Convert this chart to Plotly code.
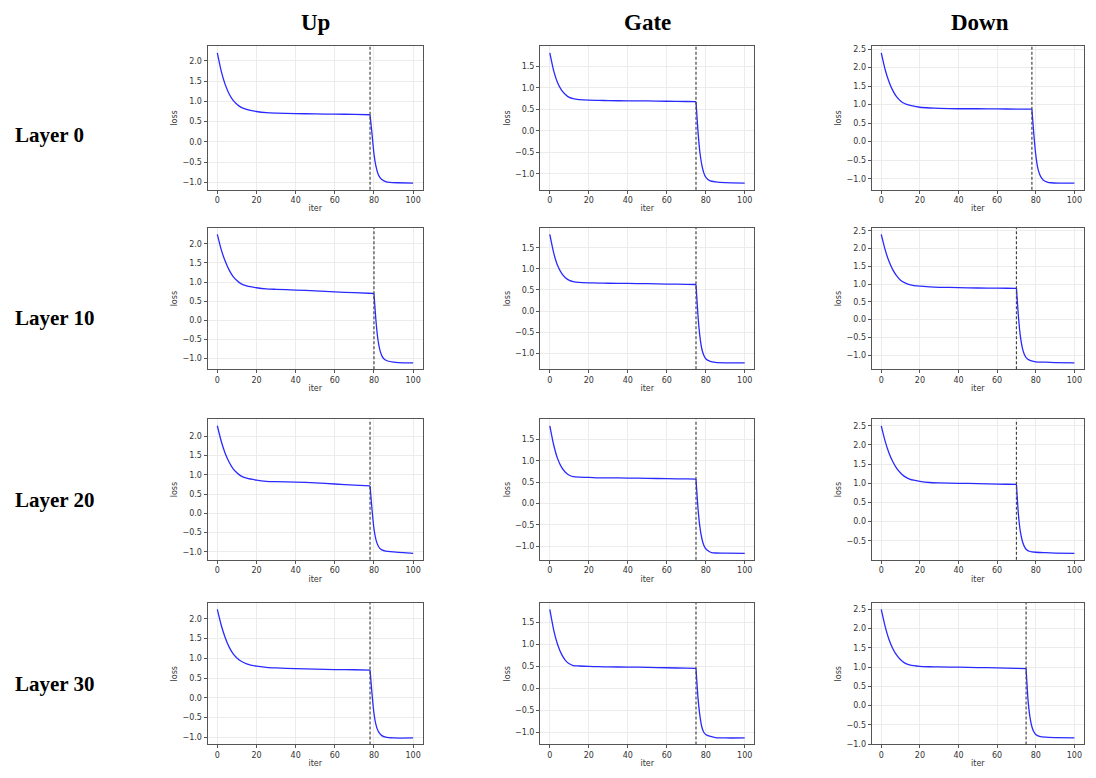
import plotly.graph_objects as go

# page body has an 8px margin: figure is sized to fit inside the window
OFF = 8
W, H = 1096 - 2 * OFF, 778 - 2 * OFF
XS = W / (1096 - OFF)  # slight compression so nothing overflows
YS = H / (778 - OFF)

col_titles = ["Up", "Gate", "Down"]
row_titles = ["Layer 0", "Layer 10", "Layer 20", "Layer 30"]

early_x = [0, 2, 4, 6, 8, 10, 12, 15, 20, 25, 30, 40, 50, 60, 70]

# vertical dashed line positions (iteration where loss switches)
breaks = [
    [78, 75, 78],
    [80, 75, 70],
    [78, 75, 70],
    [78, 75, 75],
]

# early/plateau values at early_x, then (x, y) from the break onwards
up_l0_early = [2.20, 1.75, 1.42, 1.19, 1.03, 0.93, 0.86, 0.80, 0.75, 0.72, 0.71, 0.70, 0.69, 0.685, 0.68]
up_l0_late_x = [78, 79, 80, 81, 82, 83, 84, 86, 88, 92, 100]
up_l0_late_y = [0.67, 0.20, -0.30, -0.60, -0.78, -0.88, -0.93, -0.98, -1.00, -1.01, -1.02]

gate_l0_early = [1.82, 1.40, 1.12, 0.95, 0.85, 0.78, 0.75, 0.73, 0.715, 0.71, 0.705, 0.70, 0.70, 0.69, 0.685]
gate_l0_late_x = [75, 76, 77, 78, 79, 80, 82, 85, 90, 100]
gate_l0_late_y = [0.68, 0.00, -0.50, -0.80, -0.98, -1.08, -1.16, -1.19, -1.21, -1.22]

down_l0_early = [2.40, 1.95, 1.62, 1.38, 1.21, 1.10, 1.03, 0.98, 0.93, 0.91, 0.90, 0.89, 0.89, 0.885, 0.88]
down_l0_late_x = [78, 79, 80, 81, 82, 83, 84, 86, 88, 92, 100]
down_l0_late_y = [0.88, 0.20, -0.35, -0.70, -0.88, -0.98, -1.04, -1.09, -1.11, -1.12, -1.12]

up_l10_early = [2.25, 1.85, 1.55, 1.32, 1.15, 1.04, 0.96, 0.90, 0.85, 0.82, 0.81, 0.79, 0.77, 0.74, 0.72]
up_l10_late_x = [80, 81, 82, 83, 84, 85, 87, 90, 95, 100]
up_l10_late_y = [0.70, 0.00, -0.50, -0.78, -0.93, -1.01, -1.07, -1.10, -1.12, -1.12]

gate_l10_early = [1.82, 1.38, 1.08, 0.90, 0.79, 0.73, 0.70, 0.68, 0.67, 0.665, 0.66, 0.655, 0.65, 0.64, 0.635]
gate_l10_late_x = [75, 76, 77, 78, 79, 80, 82, 85, 90, 100]
gate_l10_late_y = [0.63, -0.10, -0.60, -0.90, -1.05, -1.13, -1.19, -1.22, -1.23, -1.23]

down_l10_early = [2.40, 1.97, 1.64, 1.40, 1.23, 1.11, 1.04, 0.98, 0.94, 0.92, 0.91, 0.90, 0.89, 0.885, 0.88]
down_l10_late_x = [70, 71, 72, 73, 74, 75, 77, 80, 85, 90, 100]
down_l10_late_y = [0.88, 0.10, -0.45, -0.78, -0.97, -1.07, -1.15, -1.19, -1.20, -1.21, -1.22]

up_l20_early = [2.27, 1.87, 1.56, 1.33, 1.16, 1.05, 0.97, 0.91, 0.86, 0.83, 0.82, 0.81, 0.79, 0.76, 0.73]
up_l20_late_x = [78, 79, 80, 81, 82, 83, 84, 86, 90, 95, 100]
up_l20_late_y = [0.71, 0.10, -0.40, -0.68, -0.83, -0.91, -0.95, -0.98, -1.00, -1.02, -1.04]

gate_l20_early = [1.82, 1.37, 1.05, 0.85, 0.73, 0.66, 0.63, 0.615, 0.61, 0.60, 0.60, 0.595, 0.59, 0.58, 0.575]
gate_l20_late_x = [75, 76, 77, 78, 79, 80, 82, 83, 85, 90, 100]
gate_l20_late_y = [0.57, -0.10, -0.55, -0.82, -0.98, -1.06, -1.13, -1.15, -1.16, -1.165, -1.17]

down_l20_early = [2.50, 2.10, 1.79, 1.56, 1.39, 1.27, 1.18, 1.10, 1.05, 1.02, 1.01, 1.00, 0.99, 0.98, 0.97]
down_l20_late_x = [70, 71, 72, 73, 74, 75, 77, 80, 85, 90, 100]
down_l20_late_y = [0.97, 0.20, -0.25, -0.50, -0.64, -0.72, -0.78, -0.80, -0.81, -0.82, -0.83]

up_l30_early = [2.24, 1.84, 1.53, 1.29, 1.12, 1.01, 0.93, 0.86, 0.80, 0.77, 0.755, 0.74, 0.725, 0.715, 0.71]
up_l30_late_x = [78, 79, 80, 81, 82, 83, 84, 86, 90, 100]
up_l30_late_y = [0.70, 0.10, -0.40, -0.68, -0.83, -0.91, -0.96, -1.00, -1.02, -1.02]

gate_l30_early = [1.80, 1.33, 1.00, 0.78, 0.64, 0.56, 0.52, 0.51, 0.50, 0.495, 0.49, 0.485, 0.48, 0.47, 0.46]
gate_l30_late_x = [75, 76, 77, 78, 79, 80, 82, 85, 90, 100]
gate_l30_late_y = [0.455, -0.20, -0.62, -0.88, -1.00, -1.05, -1.09, -1.12, -1.13, -1.13]

down_l30_early = [2.50, 2.06, 1.72, 1.48, 1.31, 1.19, 1.11, 1.05, 1.02, 1.01, 1.005, 1.00, 0.99, 0.98, 0.97]
down_l30_late_x = [75, 76, 77, 78, 79, 80, 82, 85, 90, 100]
down_l30_late_y = [0.96, 0.15, -0.30, -0.55, -0.68, -0.75, -0.80, -0.82, -0.83, -0.84]

series = [
    [(up_l0_early, up_l0_late_x, up_l0_late_y), (gate_l0_early, gate_l0_late_x, gate_l0_late_y), (down_l0_early, down_l0_late_x, down_l0_late_y)],
    [(up_l10_early, up_l10_late_x, up_l10_late_y), (gate_l10_early, gate_l10_late_x, gate_l10_late_y), (down_l10_early, down_l10_late_x, down_l10_late_y)],
    [(up_l20_early, up_l20_late_x, up_l20_late_y), (gate_l20_early, gate_l20_late_x, gate_l20_late_y), (down_l20_early, down_l20_late_x, down_l20_late_y)],
    [(up_l30_early, up_l30_late_x, up_l30_late_y), (gate_l30_early, gate_l30_late_x, gate_l30_late_y), (down_l30_early, down_l30_late_x, down_l30_late_y)],
]

# layout geometry (window pixels of the reference)
col_px = [(209, 426), (544, 760), (878, 1092)]
row_px = [(46, 192), (231, 375), (426, 569), (613, 757)]
col_title_x = [318, 652, 987]
row_title_y = [136, 323, 508, 695]


def px_x(v):
    return (v - OFF) * XS / W


def px_y(v):
    return 1 - (v - OFF) * YS / H


fig = go.Figure()
layout = dict(
    width=W, height=H,
    margin=dict(l=0, r=0, t=0, b=0),
    paper_bgcolor="white", plot_bgcolor="white",
    showlegend=False,
    font=dict(family="DejaVu Sans, Arial", color="#333"),
    annotations=[], shapes=[],
)

tick_font = dict(size=8, color="#333", family="DejaVu Sans")
title_font = dict(size=8, color="#333", family="DejaVu Sans")
line_style = dict(color="#2a2aff", width=1.3, shape="spline", smoothing=0.5)

idx = 0
for r in range(4):
    for c in range(3):
        idx += 1
        early, lx, ly = series[r][c]
        b = breaks[r][c]
        # plateau segment up to the break point, then the drop segment
        seg1_x = list(early_x) + [x for x in lx if x <= b]
        seg1_y = list(early) + [y for x, y in zip(lx, ly) if x <= b]
        seg2_x = [x for x in lx if x >= b]
        seg2_y = [y for x, y in zip(lx, ly) if x >= b]
        xa = "x" if idx == 1 else f"x{idx}"
        ya = "y" if idx == 1 else f"y{idx}"
        for sx, sy in ((seg1_x, seg1_y), (seg2_x, seg2_y)):
            fig.add_trace(go.Scatter(x=sx, y=sy, mode="lines", line=line_style,
                                     xaxis=xa, yaxis=ya, hoverinfo="skip"))
        allv = seg1_y + seg2_y
        ymin, ymax = min(allv), max(allv)
        pad = 0.05 * (ymax - ymin)
        x0, x1 = col_px[c]
        t0, t1 = row_px[r]
        ax_common = dict(showgrid=True, gridcolor="#ececec", gridwidth=1,
                         showline=True, linecolor="#555", linewidth=1, mirror=True,
                         ticks="outside", ticklen=3, tickcolor="#555",
                         tickfont=tick_font, zeroline=False)
        layout["xaxis" if idx == 1 else f"xaxis{idx}"] = dict(
            domain=[px_x(x0), px_x(x1)], anchor=ya, range=[-5, 105],
            tickmode="array", tickvals=[0, 20, 40, 60, 80, 100],
            title=dict(text="iter", font=title_font, standoff=1), **ax_common)
        layout["yaxis" if idx == 1 else f"yaxis{idx}"] = dict(
            domain=[px_y(t1), px_y(t0)], anchor=xa,
            range=[ymin - pad, ymax + pad], dtick=0.5, tick0=0, tickformat=".1f",
            title=dict(text="loss", font=title_font, standoff=3), **ax_common)
        layout["shapes"].append(dict(
            type="line", xref=xa, yref=f"{ya} domain",
            x0=b, x1=b, y0=0, y1=1,
            line=dict(color="#444", width=1.2, dash="3px,2px")))

for c, t in enumerate(col_titles):
    layout["annotations"].append(dict(
        text=f"<b>{t}</b>", x=px_x(col_title_x[c]), y=px_y(22),
        xref="paper", yref="paper", showarrow=False, xanchor="center", yanchor="middle",
        font=dict(family="Liberation Serif, Times New Roman", size=23, color="black")))
for r, t in enumerate(row_titles):
    layout["annotations"].append(dict(
        text=f"<b>{t}</b>", x=px_x(13), y=px_y(row_title_y[r]),
        xref="paper", yref="paper", showarrow=False, xanchor="left", yanchor="middle",
        font=dict(family="Liberation Serif, Times New Roman", size=21, color="black")))

fig.update_layout(**layout)
fig.write_html("out.html")
